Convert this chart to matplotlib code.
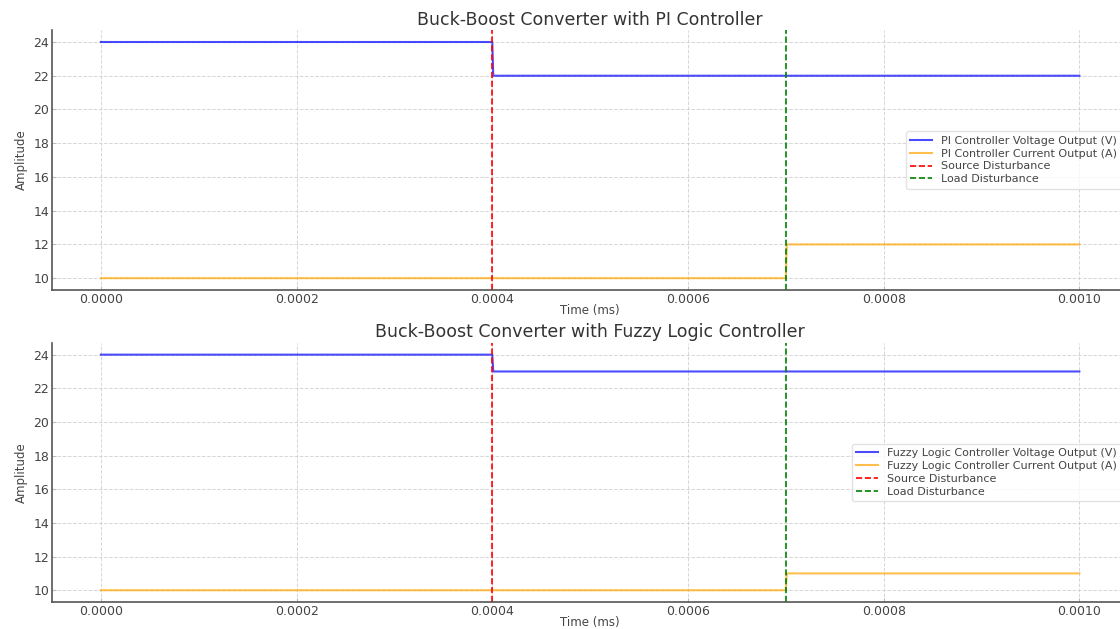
import matplotlib
matplotlib.use('Agg')
import matplotlib.pyplot as plt

# Time samples (s) and controller responses
time = [0.0, 0.0004, 0.000401, 0.0007, 0.000701, 0.001]
pi_voltage = [24, 24, 22, 22, 22, 22]
pi_current = [10, 10, 10, 10, 12, 12]
fuzzy_voltage = [24, 24, 23, 23, 23, 23]
fuzzy_current = [10, 10, 10, 10, 11, 11]

source_disturbance = 0.0004
load_disturbance = 0.0007

x_ticks = [0.0, 0.0002, 0.0004, 0.0006, 0.0008, 0.0010]
y_ticks = [10, 12, 14, 16, 18, 20, 22, 24]

panels = [
    ('Buck-Boost Converter with PI Controller', 'PI Controller',
     pi_voltage, pi_current, [0.0464, 0.539, 0.961, 0.413]),
    ('Buck-Boost Converter with Fuzzy Logic Controller', 'Fuzzy Logic Controller',
     fuzzy_voltage, fuzzy_current, [0.0464, 0.0429, 0.961, 0.412]),
]

fig = plt.figure(figsize=(11.2, 6.29), dpi=100)
text_color = '#444444'

for title, name, volt, curr, pos in panels:
    ax = fig.add_axes(pos)
    ax.plot(time, volt, color='blue', alpha=0.7, lw=1.5, label=name + ' Voltage Output (V)')
    ax.plot(time, curr, color='orange', alpha=0.7, lw=1.5, label=name + ' Current Output (A)')
    ax.axvline(source_disturbance, color='red', ls='--', lw=1.2, label='Source Disturbance')
    ax.axvline(load_disturbance, color='green', ls='--', lw=1.2, label='Load Disturbance')
    ax.set_xticks(x_ticks)
    ax.set_xticklabels(['%.4f' % v for v in x_ticks])
    ax.set_yticks(y_ticks)
    ax.grid(True, ls='--', color='#cccccc', lw=0.7, alpha=0.8)
    ax.set_title(title, fontsize=12.5, color='#333333', pad=4)
    ax.set_xlabel('Time (ms)', fontsize=8.5, color=text_color)
    ax.xaxis.set_label_coords(0.5, -0.055)
    ax.set_ylabel('Amplitude', fontsize=8.5, color=text_color, labelpad=4)
    ax.tick_params(labelsize=9, color='#bbbbbb', labelcolor=text_color,
                   direction='in', length=3, pad=2)
    for side in ['top', 'right']:
        ax.spines[side].set_visible(False)
    for side in ['left', 'bottom']:
        ax.spines[side].set_color('#555555')
        ax.spines[side].set_linewidth(1.2)
    leg = ax.legend(loc='center right', fontsize=8, frameon=True,
                    labelspacing=0.25, borderpad=0.4, borderaxespad=0.6)
    leg.get_frame().set_edgecolor('#dddddd')
    for t in leg.get_texts():
        t.set_color(text_color)

fig.savefig('out.png', dpi=100)
